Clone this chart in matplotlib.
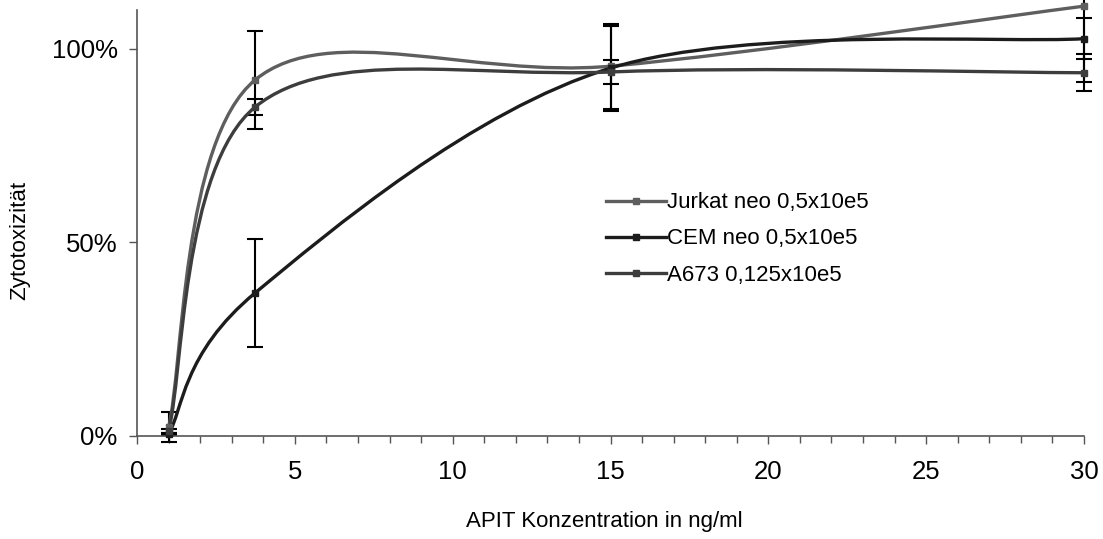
import numpy as np
import matplotlib.pyplot as plt
from matplotlib.path import Path
from matplotlib.patches import PathPatch
from matplotlib.lines import Line2D
from matplotlib.ticker import MultipleLocator, FuncFormatter

plt.rcParams['font.family'] = ['Liberation Sans', 'DejaVu Sans']

# APIT concentrations (ng/ml)
conc = [1, 3.75, 15, 30]

# cytotoxicity in %, mean and error
jurkat = [2.3, 92, 95.5, 111]
jurkat_err = [3.9, 12.6, 11, 19.5]
cem = [0.5, 37, 95, 102.6]
cem_err = [0.3, 14, 11, 5.3]
a673 = [1.3, 85, 94, 93.8]
a673_err = [0.5, 2, 3, 4.8]

labels = ['Jurkat neo 0,5x10e5', 'CEM neo 0,5x10e5', 'A673 0,125x10e5']
colors = ['#5e5e5e', '#1c1c1c', '#3d3d3d']


def smooth_path(x, y):
    # cubic bezier through the points, spreadsheet-style smoothed line
    pts = np.column_stack([x, y]).astype(float)
    n = len(pts)
    verts = [pts[0]]
    codes = [Path.MOVETO]
    for i in range(n - 1):
        p0 = pts[max(i - 1, 0)]
        p1 = pts[i]
        p2 = pts[i + 1]
        p3 = pts[min(i + 2, n - 1)]
        verts += [p1 + (p2 - p0) / 6, p2 - (p3 - p1) / 6, p2]
        codes += [Path.CURVE4] * 3
    return Path(verts, codes)


fig = plt.figure(figsize=(11.03, 5.39), dpi=100)
ax = fig.add_axes([0.1242, 0.1911, 0.8586, 0.7903])

series = [(jurkat, jurkat_err), (cem, cem_err), (a673, a673_err)]

for (vals, errs) in series:
    ax.errorbar(conc, [v / 100 for v in vals], yerr=[e / 100 for e in errs],
                fmt='none', ecolor='black', elinewidth=1.5, capsize=6,
                capthick=1.5, clip_on=False, zorder=2)

handles = []
for (vals, errs), lab, col in zip(series, labels, colors):
    yv = [v / 100 for v in vals]
    patch = PathPatch(smooth_path(conc, yv), facecolor='none', edgecolor=col,
                      lw=2.4, clip_on=False, zorder=3, capstyle='round')
    ax.add_patch(patch)
    ax.plot(conc, yv, 's', color=col, ms=5, clip_on=False, zorder=4)
    handles.append(Line2D([], [], color=col, lw=2.4, marker='s', ms=5,
                          markevery=[1]))

ax.set_xlim(0, 30)
ax.set_ylim(0, 1.1)
ax.xaxis.set_major_locator(MultipleLocator(5))
ax.xaxis.set_minor_locator(MultipleLocator(1))
ax.set_yticks([0, 0.5, 1.0])
ax.yaxis.set_major_formatter(FuncFormatter(lambda v, p: '%d%%' % round(v * 100)))

for s in ['top', 'right']:
    ax.spines[s].set_visible(False)
for s in ['left', 'bottom']:
    ax.spines[s].set_color('#555555')
    ax.spines[s].set_linewidth(1.2)

ax.tick_params(axis='both', which='major', direction='out', length=6,
               width=1, color='#555555', labelsize=18.5, pad=8)
ax.tick_params(axis='x', which='minor', direction='out', length=5,
               width=1, color='#555555')
ax.tick_params(axis='x', which='major', pad=11)

ax.set_xlabel('APIT Konzentration in ng/ml', fontsize=16)
ax.set_ylabel('Zytotoxizität', fontsize=16)
ax.xaxis.set_label_coords(0.493, -0.2)
ax.yaxis.set_label_coords(-0.1235, 0.46)
ax.xaxis.label.set_va('center')
ax.yaxis.label.set_va('center')

leg = ax.legend(handles, labels, loc='upper left',
                bbox_to_anchor=(0.4745, 0.619), frameon=False, fontsize=16,
                handlelength=2.7, handletextpad=0.02, labelspacing=0.68)

fig.savefig('out.png', dpi=100)
